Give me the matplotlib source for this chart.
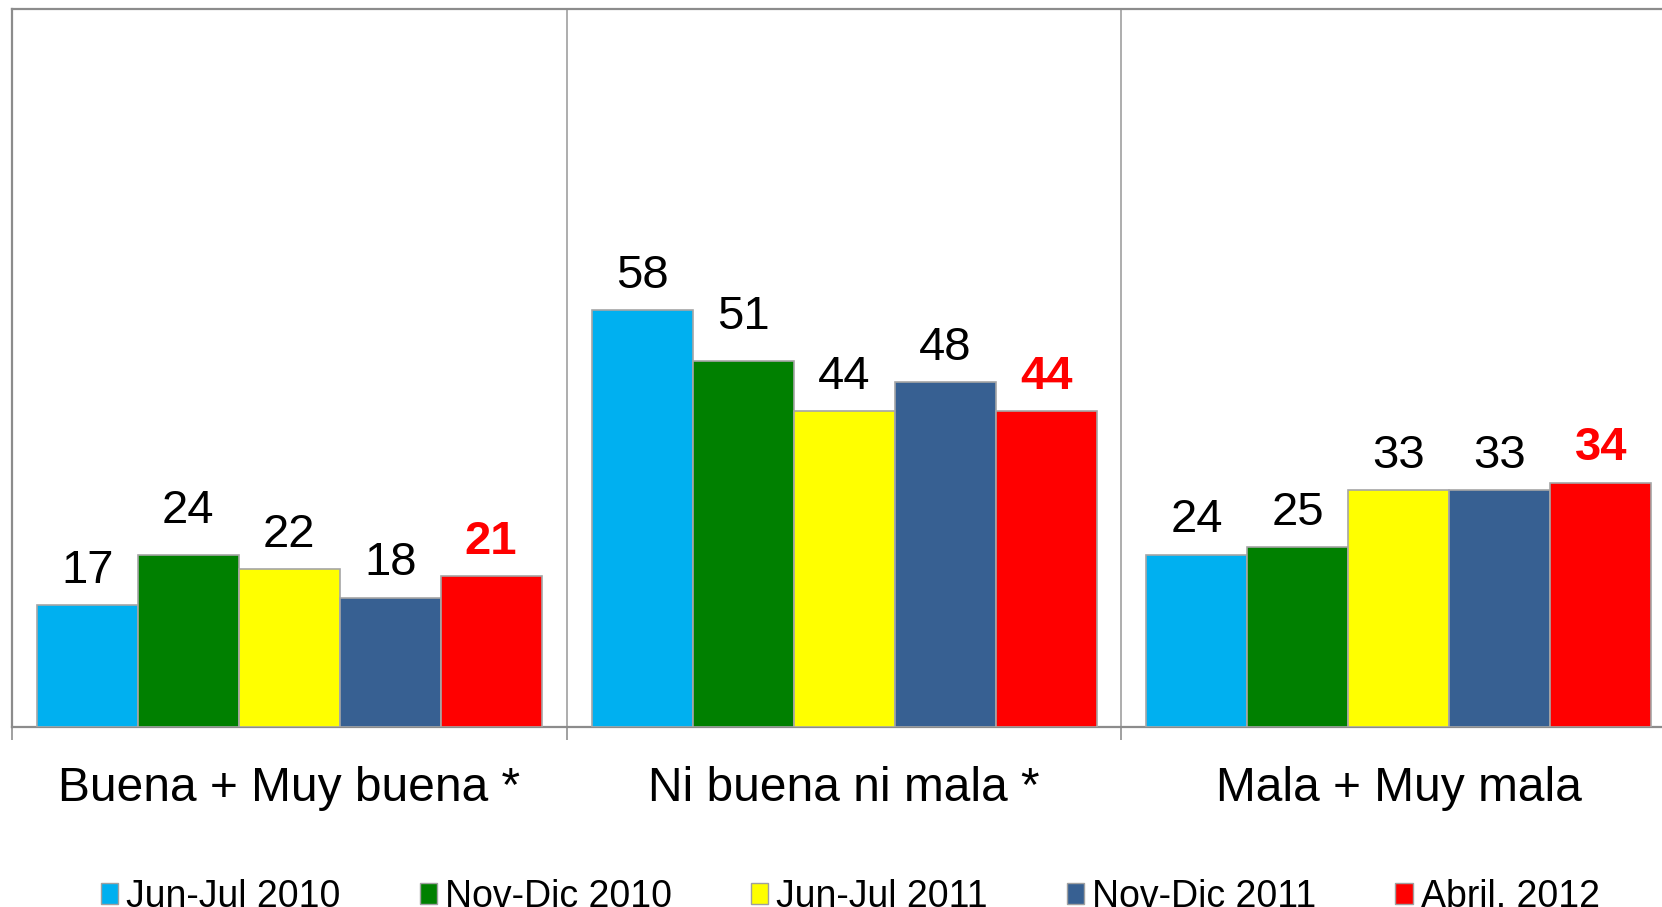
import numpy as np
import matplotlib.pyplot as plt
from matplotlib.patches import Patch

plt.rcParams['font.family'] = ['Liberation Sans', 'DejaVu Sans']

categories = ['Buena + Muy buena *', 'Ni buena ni mala *', 'Mala + Muy mala']
series = ['Jun-Jul 2010', 'Nov-Dic 2010', 'Jun-Jul 2011', 'Nov-Dic 2011', 'Abril. 2012']
jun_jul_2010 = [17, 58, 24]
nov_dic_2010 = [24, 51, 25]
jun_jul_2011 = [22, 44, 33]
nov_dic_2011 = [18, 48, 33]
abril_2012 = [21, 44, 34]

colors = ['#00B0F0', '#008000', '#FFFF00', '#376092', '#FF0000']
values = [jun_jul_2010, nov_dic_2010, jun_jul_2011, nov_dic_2011, abril_2012]

# a couple of labels sit a little higher in the original (series, category) -> extra points
label_nudge = {(1, 0): 7, (1, 1): 7}

fig = plt.figure(figsize=(16.62, 9.07), dpi=100)
# axes runs a bit past the right edge, as in the cropped original
ax = fig.add_axes([0.00704, 0.1985, 1.0016, 0.7921])

x = np.arange(len(categories))
width = 0.182
for i, (vals, col) in enumerate(zip(values, colors)):
    pos = x + (i - 2) * width
    ax.bar(pos, vals, width, color=col, edgecolor='#a6a6a6', linewidth=1.2, zorder=3)
    last = i == len(values) - 1
    for j, (px, v) in enumerate(zip(pos, vals)):
        ax.annotate(str(v), (px, v), xytext=(0, 16 + label_nudge.get((i, j), 0)),
                    textcoords='offset points', ha='center', va='baseline', fontsize=34,
                    color='#FF0000' if last else 'black',
                    fontweight='bold' if last else 'normal')

ax.set_xlim(-0.5, 2.5)
ax.set_ylim(0, 100)
ax.set_yticks([])
ax.set_xticks(x)
ax.set_xticklabels(categories, fontsize=34.5)
ax.set_xticks([-0.5, 0.5, 1.5, 2.5], minor=True)
ax.tick_params(axis='x', which='major', length=0, pad=28)
ax.tick_params(axis='x', which='minor', length=9.5, width=1.2, color='#909090', direction='out')
ax.grid(axis='x', which='minor', color='#a0a0a0', linewidth=1.2, zorder=0)

for side in ['left', 'top', 'bottom', 'right']:
    ax.spines[side].set_color('#8c8c8c')
    ax.spines[side].set_linewidth(1.6)

handles = [Patch(facecolor=c, edgecolor='#a0a0a0', linewidth=1.0) for c in colors]
fig.legend(handles, series, loc='center left', bbox_to_anchor=(101 / 1662, 1 - 897 / 907),
           ncol=5, frameon=False, fontsize=27, handlelength=0.46, handleheight=0.46,
           handletextpad=0.22, columnspacing=2.1, borderpad=0, borderaxespad=0)

fig.savefig('out.png', dpi=100)
